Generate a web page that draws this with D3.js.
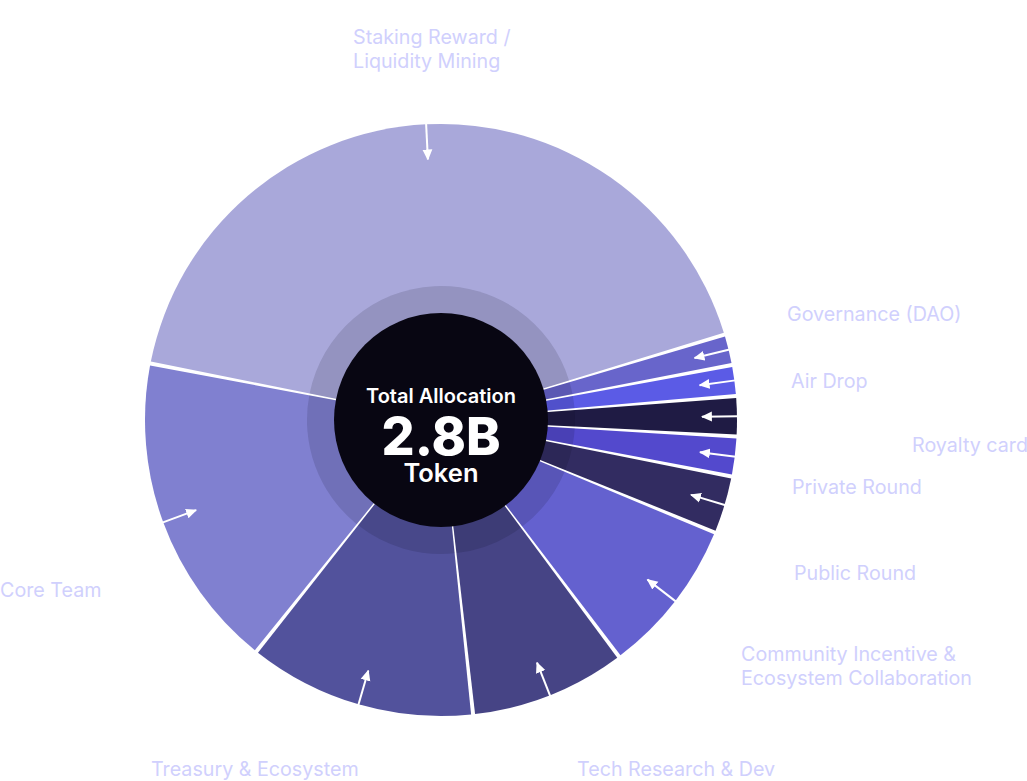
<!DOCTYPE html>
<html>
<head>
<meta charset="utf-8">
<script src="https://cdn.jsdelivr.net/npm/d3@7/dist/d3.min.js"></script>
<style>
  html, body { margin: 0; padding: 0; background: #ffffff; }
  svg { display: block; }
  text { font-family: Inter, "Noto Sans", sans-serif; }
</style>
</head>
<body>
<svg id="chart" width="1027" height="781"></svg>
<script>
// ---- data ----
const categories = [
  "Staking Reward / Liquidity Mining",
  "Governance (DAO)",
  "Air Drop",
  "Royalty card",
  "Private Round",
  "Public Round",
  "Community Incentive & Ecosystem Collaboration",
  "Tech Research & Dev",
  "Treasury & Ecosystem",
  "Core Team"
];
const shares = [43, 1.5, 1.5, 2, 2, 3, 8.5, 8.5, 12.5, 17.5]; // percent of 2.8B
const totalLabel = ["Total Allocation", "2.8B", "Token"];

// ---- styles / layout ----
const colors = ["#a9a8da", "#6865cb", "#5b5be6", "#1f1b44", "#5349cd",
                "#322c61", "#6461cf", "#464485", "#52529c", "#8080d0"];
const labelLines = [
  ["Staking Reward /", "Liquidity Mining"],
  ["Governance (DAO)"],
  ["Air Drop"],
  ["Royalty card"],
  ["Private Round"],
  ["Public Round"],
  ["Community Incentive &", "Ecosystem Collaboration"],
  ["Tech Research & Dev"],
  ["Treasury & Ecosystem"],
  ["Core Team"]
];
const labelPos = [[353, 44], [787, 321], [791, 388], [912, 452], [792, 494],
                  [794, 580], [741, 661], [577, 776], [151, 776], [0, 597]];

const cx = 441, cy = 420;
const R = 296, ringR = 134, holeR = 107;
const deg = Math.PI / 180;
const startA = -79 * deg;
const padPx = 4;

const svg = d3.select("#chart");
const defs = svg.append("defs");
defs.append("marker")
  .attr("id", "arrowhead")
  .attr("viewBox", "0 0 10 10")
  .attr("refX", 9).attr("refY", 5)
  .attr("markerWidth", 11).attr("markerHeight", 11)
  .attr("markerUnits", "userSpaceOnUse")
  .attr("orient", "auto")
  .append("path").attr("d", "M0,0.5 L10,5 L0,9.5 Z").attr("fill", "#ffffff");

const g = svg.append("g").attr("transform", `translate(${cx},${cy})`);

const pie = d3.pie().sort(null).value(d => d)
  .startAngle(startA).endAngle(startA + 2 * Math.PI)
  .padAngle(padPx / R);
const arcs = pie(shares);

const arcMain = d3.arc().innerRadius(0).outerRadius(R).padRadius(R);
const arcRing = d3.arc().innerRadius(0).outerRadius(ringR).padRadius(ringR);

g.selectAll("path.slice").data(arcs).join("path")
  .attr("class", "slice")
  .attr("d", arcMain)
  .attr("fill", (d, i) => colors[i]);

g.selectAll("path.ring").data(arcs).join("path")
  .attr("class", "ring")
  .attr("d", arcRing)
  .attr("fill", "#0a0818")
  .attr("fill-opacity", 0.13);

g.append("circle").attr("r", holeR).attr("fill", "#080612");

// arrows pointing inward at each slice's mid-angle
const rOut = d3.scaleLinear().domain([0, 1]).range([R + 1, R - 35]);
const mid = d => (d.startAngle + d.endAngle) / 2;
g.selectAll("line.arrow").data(arcs).join("line")
  .attr("class", "arrow")
  .attr("x1", d => rOut(0) * Math.sin(mid(d)))
  .attr("y1", d => -rOut(0) * Math.cos(mid(d)))
  .attr("x2", d => rOut(1) * Math.sin(mid(d)))
  .attr("y2", d => -rOut(1) * Math.cos(mid(d)))
  .attr("stroke", "#ffffff")
  .attr("stroke-width", 2)
  .attr("marker-end", "url(#arrowhead)");

// center text
g.append("text").attr("text-anchor", "middle").attr("y", -17)
  .attr("fill", "#ffffff").attr("font-size", 20).attr("font-weight", 600)
  .text(totalLabel[0]);
g.append("text").attr("text-anchor", "middle").attr("y", 35)
  .attr("fill", "#ffffff").attr("font-size", 52).attr("font-weight", 800)
  .text(totalLabel[1]);
g.append("text").attr("text-anchor", "middle").attr("y", 62)
  .attr("fill", "#ffffff").attr("font-size", 25.5).attr("font-weight", 600)
  .text(totalLabel[2]);

// category labels
const labels = svg.selectAll("text.label").data(categories).join("text")
  .attr("class", "label")
  .attr("x", (d, i) => labelPos[i][0])
  .attr("y", (d, i) => labelPos[i][1])
  .attr("fill", "#d0d0fd")
  .attr("font-size", 19.7)
  .attr("font-weight", 400);
labels.each(function(d, i) {
  const t = d3.select(this);
  labelLines[i].forEach((ln, k) => {
    t.append("tspan").attr("x", labelPos[i][0]).attr("dy", k === 0 ? 0 : 24).text(ln);
  });
});
</script>
</body>
</html>
